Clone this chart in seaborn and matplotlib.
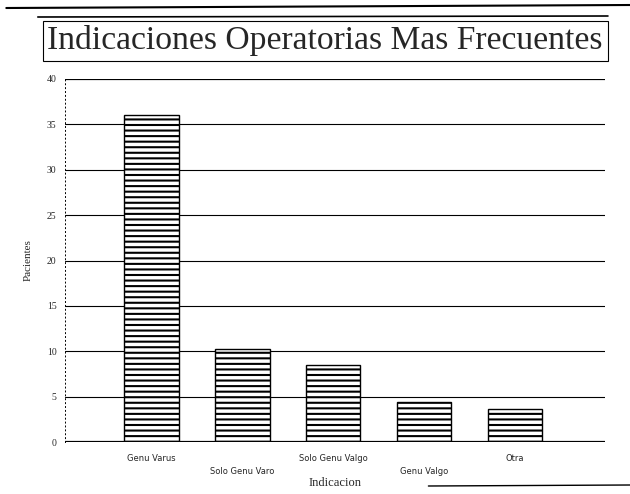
import matplotlib
matplotlib.use("Agg")
import matplotlib.pyplot as plt
import seaborn as sns
import pandas as pd

# values
indicaciones = ["Genu Varus", "Solo Genu Varo", "Solo Genu Valgo", "Genu Valgo", "Otra"]
pacientes = [36, 10.3, 8.5, 4.4, 3.6]
y_ticks = [0, 5, 10, 15, 20, 25, 30, 35, 40]

df = pd.DataFrame({"indicacion": indicaciones, "pacientes": pacientes})

sns.set_theme(style="white")
plt.rcParams["hatch.linewidth"] = 1.5
plt.rcParams["hatch.color"] = "black"

fig = plt.figure(figsize=(6.3, 4.94), dpi=100)
ax = fig.add_axes([65 / 630, 1 - 442 / 494, 540 / 630, 363 / 494])

# horizontal grid lines
for t in y_ticks:
    lw = 1.6 if t in (0, 40) else 0.8
    ax.axhline(t, color="black", lw=lw, zorder=1)

sns.barplot(data=df, x="indicacion", y="pacientes", ax=ax, width=0.6,
            color="white", edgecolor="black", linewidth=1.0, zorder=2)
for bar in ax.patches:
    bar.set_hatch("---")

ax.set_xlim(-0.95, 4.99)
ax.set_ylim(0, 40)
ax.set_yticks(y_ticks)
ax.set_yticklabels([str(t) for t in y_ticks], family="Liberation Serif", fontsize=7)
ax.tick_params(axis="y", length=0, pad=6)

# staggered category labels
ax.set_xticks(range(len(indicaciones)))
ax.set_xticklabels([])
ax.tick_params(axis="x", length=0)
for i, name in enumerate(indicaciones):
    off = 12 if i % 2 == 0 else 21
    ax.annotate(name, xy=(i, 0), xytext=(0, -off), textcoords="offset points",
                ha="center", va="center", fontsize=6, family="DejaVu Sans")

for side in ["top", "right", "bottom"]:
    ax.spines[side].set_visible(False)
ax.spines["left"].set_linestyle((0, (1, 3)))
ax.spines["left"].set_linewidth(0.7)
ax.spines["left"].set_color("black")

ax.set_xlabel("Indicacion", family="Liberation Serif", fontsize=9, labelpad=22)
ax.set_ylabel("Pacientes", family="Liberation Serif", fontsize=8, labelpad=10)

# boxed title with the scanned frame lines
fig.text(0.516, 1 - 41 / 494, "Indicaciones Operatorias Mas Frecuentes",
         ha="center", va="center", family="Liberation Serif", fontsize=24.2,
         bbox=dict(boxstyle="square,pad=0.14", fc="white", ec="black", lw=0.8))
fig.add_artist(plt.Line2D([0.01, 1.0], [1 - 8 / 494, 1 - 5 / 494], color="black", lw=1.5))
fig.add_artist(plt.Line2D([0.06, 0.965], [1 - 17 / 494, 1 - 16 / 494], color="black", lw=1.2))
fig.add_artist(plt.Line2D([0.68, 1.0], [1 - 486 / 494, 1 - 485 / 494], color="black", lw=1.0))

fig.savefig("out.png", dpi=100)
